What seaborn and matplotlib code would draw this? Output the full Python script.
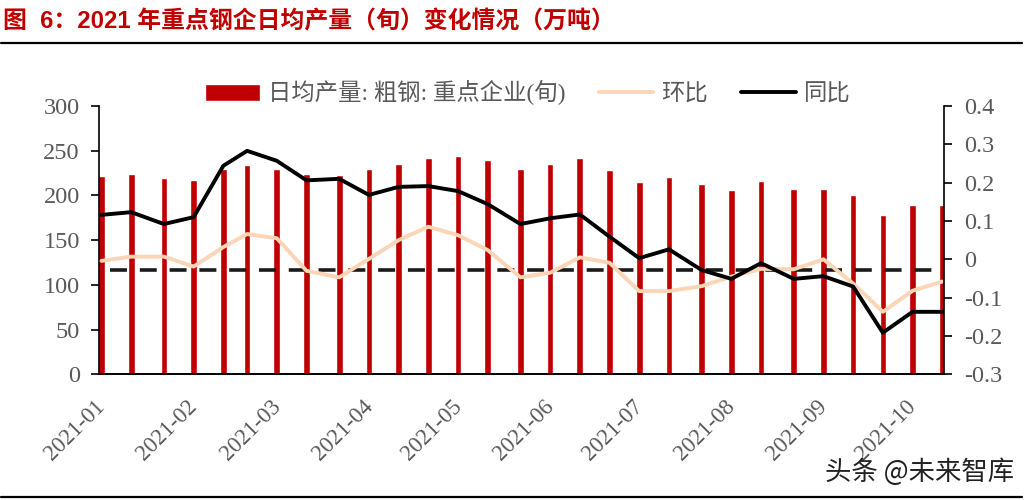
import matplotlib
matplotlib.use('Agg')
import matplotlib.pyplot as plt
import matplotlib.dates as mdates
from matplotlib.lines import Line2D
from matplotlib.transforms import ScaledTranslation
import pandas as pd
import seaborn as sns

# 旬度日期
dates = ['2021-01-10', '2021-01-20', '2021-01-31', '2021-02-10', '2021-02-20', '2021-02-28',
         '2021-03-10', '2021-03-20', '2021-03-31', '2021-04-10', '2021-04-20', '2021-04-30',
         '2021-05-10', '2021-05-20', '2021-05-31', '2021-06-10', '2021-06-20', '2021-06-30',
         '2021-07-10', '2021-07-20', '2021-07-31', '2021-08-10', '2021-08-20', '2021-08-31',
         '2021-09-10', '2021-09-20', '2021-09-30', '2021-10-10', '2021-10-20']
output = [221.7, 223.6, 219.5, 217, 230, 233.6, 229, 223.6, 223, 229.5, 234.8, 241.8, 244, 240, 230,
          235.5, 241.5, 228.4, 215.4, 221, 212.4, 206, 215.8, 207, 206.8, 201, 178.5, 189, 189]
mom = [-0.004, 0.007, 0.007, -0.019, 0.032, 0.066, 0.055, -0.030, -0.047, 0.001, 0.050, 0.085, 0.063, 0.024, -0.047,
       -0.035, 0.005, -0.009, -0.083, -0.083, -0.070, -0.045, -0.025, -0.026, 0.0, -0.063, -0.137, -0.082, -0.058]
yoy = [0.116, 0.123, 0.092, 0.110, 0.244, 0.283, 0.257, 0.206, 0.210, 0.168, 0.189, 0.191, 0.178, 0.144, 0.092,
       0.107, 0.117, 0.059, 0.003, 0.026, -0.028, -0.051, -0.010, -0.051, -0.044, -0.071, -0.1915, -0.137, -0.137]
ref_level = 117

month_ticks = ['2021-01-10', '2021-02-10', '2021-03-10', '2021-04-10', '2021-05-10',
               '2021-06-10', '2021-07-10', '2021-08-10', '2021-09-10', '2021-10-10']
month_labels = ['2021-01', '2021-02', '2021-03', '2021-04', '2021-05',
                '2021-06', '2021-07', '2021-08', '2021-09', '2021-10']
left_ticks = [0, 50, 100, 150, 200, 250, 300]
right_ticks = [-0.3, -0.2, -0.1, 0, 0.1, 0.2, 0.3, 0.4]
right_labels = ['-0.3', '-0.2', '-0.1', '0', '0.1', '0.2', '0.3', '0.4']

RED = '#C00000'
BEIGE = '#FBD5B5'
GREY = '#595959'
FONTS = ['Liberation Serif', 'Noto Sans CJK SC']

sns.set_theme(style='white')
plt.rcParams['font.family'] = FONTS
plt.rcParams['axes.unicode_minus'] = False

W, H = 1029, 500
fig = plt.figure(figsize=(W / 100, H / 100), dpi=100)
ax = fig.add_axes([99.3 / W, 1 - 374.3 / H, (943.5 - 99.3) / W, (374.3 - 106) / H])

x = mdates.date2num(pd.to_datetime(dates))
sns.barplot(x=x, y=output, native_scale=True, width=0.28, color=RED, saturation=1,
            label='日均产量: 粗钢: 重点企业(旬)', ax=ax)
ax.axhline(ref_level, color='#1a1a1a', lw=2.6, linestyle=(5.2, (4.7, 3.55)), zorder=3)

ax2 = ax.twinx()
sns.lineplot(x=x, y=mom, color=BEIGE, lw=2.8, label='环比', legend=False, ax=ax2)
sns.lineplot(x=x, y=yoy, color='black', lw=2.8, label='同比', legend=False, ax=ax2)

ax.set_xlim(mdates.date2num(pd.Timestamp('2021-01-09 06:00')), mdates.date2num(pd.Timestamp('2021-10-20 10:00')))
ax.set_ylim(0, 300)
ax2.set_ylim(-0.3, 0.4)

ax.set_xticks(mdates.date2num(pd.to_datetime(month_ticks)))
ax.set_xticklabels(month_labels, rotation=45, ha='right', va='top', rotation_mode='anchor')
ax.set_yticks(left_ticks)
ax2.set_yticks(right_ticks)
ax2.set_yticklabels(right_labels)
ax.set_xlabel('')
ax.set_ylabel('')
ax2.set_ylabel('')

ax.tick_params(axis='x', length=0, pad=15.5, labelsize=16.5, labelcolor=GREY)
ax.tick_params(axis='y', left=True, length=5.5, width=1.2, color='black', pad=8.5, labelsize=17.5, labelcolor=GREY)
ax2.tick_params(axis='y', right=True, length=5.5, width=1.2, color='black', pad=9, labelsize=17.5, labelcolor=GREY)

# 月份标签向左挪一点
for lab in ax.get_xticklabels():
    lab.set_transform(lab.get_transform() + ScaledTranslation(-5 / 72, 0, fig.dpi_scale_trans))

for a in (ax, ax2):
    a.grid(False)
    a.spines['top'].set_visible(False)
    a.spines['left'].set_visible(a is ax)
    a.spines['right'].set_visible(a is ax2)
    for s in a.spines.values():
        s.set_color('black')
        s.set_linewidth(1.2)

h1, l1 = ax.get_legend_handles_labels()
h2, l2 = ax2.get_legend_handles_labels()
if ax.get_legend():
    ax.get_legend().remove()
ax2.legend(h1 + h2, l1 + l2, ncol=3, frameon=False, loc='center',
           bbox_to_anchor=(528 / W, 1 - 93 / H), bbox_transform=fig.transFigure,
           fontsize=16.8, labelcolor=GREY, handlelength=2.35, handletextpad=0.35,
           columnspacing=1.4, borderpad=0, borderaxespad=0)

# 标题和上下横线
fig.text(3 / W, 1 - 22 / H, '图  6：2021 年重点钢企日均产量（旬）变化情况（万吨）', color=RED,
         fontsize=17.2, fontweight='bold', va='center', ha='left',
         family=['Liberation Sans', 'Noto Sans CJK SC'])
fig.add_artist(Line2D([1 / W, 1022 / W], [1 - 43 / H, 1 - 43 / H], color='black', lw=1.6))
fig.add_artist(Line2D([1 / W, 1022 / W], [1 - 497 / H, 1 - 497 / H], color='black', lw=1.6))

fig.text(1014 / W, 1 - 472 / H, '头条 @未来智库', color='#222222', fontsize=19, va='center', ha='right',
         family=['Noto Sans CJK SC', 'DejaVu Sans'])

fig.savefig('out.png', dpi=100)
